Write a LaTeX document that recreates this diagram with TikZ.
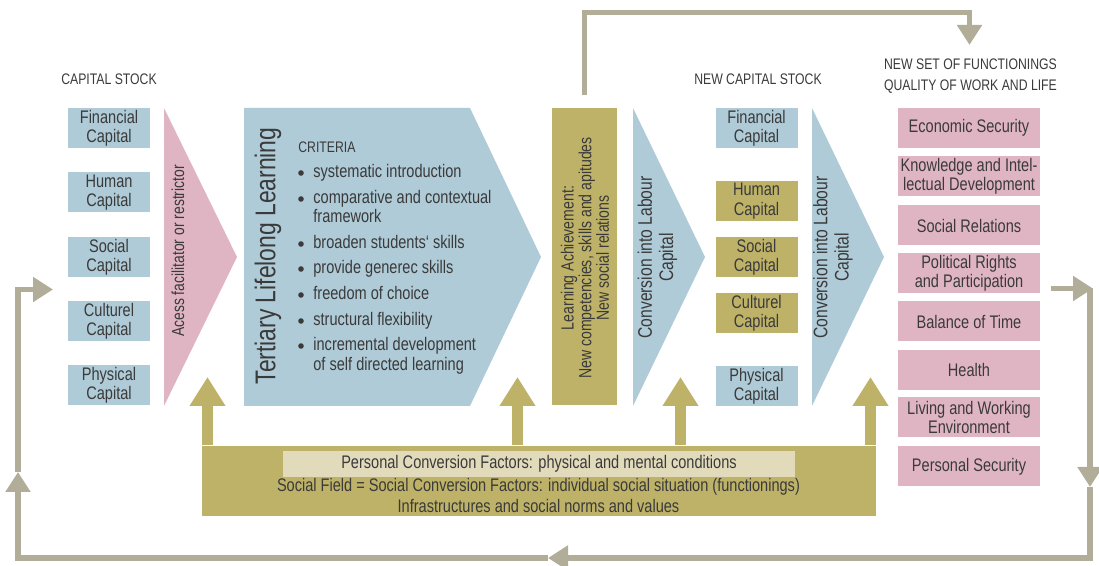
\documentclass[tikz,border=0pt]{standalone}
\usepackage{fontspec}
\setmainfont[FakeStretch=0.8]{Liberation Sans}
\usetikzlibrary{arrows.meta}

\definecolor{capblue}{RGB}{175,203,215}
\definecolor{fpink}{RGB}{224,181,195}
\definecolor{olivec}{RGB}{190,178,104}
\definecolor{beigec}{RGB}{225,219,187}
\definecolor{loopgray}{RGB}{177,173,152}
\definecolor{txtc}{RGB}{58,58,58}

\newcommand{\bodyfont}{\fontsize{9.1}{9.7}\selectfont}
\newcommand{\titlefont}{\fontsize{7.65}{10.5}\selectfont}

\tikzset{
    title/.style={font=\titlefont, text=txtc, align=center, inner sep=0pt},
    capbox/.style={fill=capblue, minimum width=41pt, minimum height=20pt, inner sep=0pt,
        align=center, font=\bodyfont, text=txtc},
    funcbox/.style={fill=fpink, minimum width=71pt, minimum height=20pt, inner sep=0pt,
        align=center, font=\bodyfont, text=txtc},
    vtext/.style={rotate=90, align=center, inner sep=0pt, text=txtc},
    crit/.style={anchor=west, inner sep=0pt, font=\bodyfont, text=txtc,
        text height=6.6pt, text depth=1.9pt},
    ftext/.style={inner sep=0pt, font=\bodyfont, text=txtc},
    uparr/.style={draw=olivec, line width=5.5pt, -{Triangle[length=14.5pt,width=17pt]}},
    fb/.style={draw=loopgray, line width=2.7pt, -{Triangle[length=10pt,width=12pt]}}
}

\begin{document}
\begin{tikzpicture}[x=0.5pt,y=-0.5pt]
    \useasboundingbox (0,0) rectangle (1099,566);

    \node[title] (cstock) at (109,79) {CAPITAL STOCK};
    \node[title] (ncstock) at (758,79) {NEW CAPITAL STOCK};
    \node[title] (func) at (970.5,76) {NEW SET OF FUNCTIONINGS\\QUALITY OF WORK AND LIFE};

    \foreach \i/\y/\val in {1/128/Financial, 2/192.5/Human, 3/257/Social, 4/321/Culturel, 5/385.5/Physical} {
        \node[capbox] (cs\i) at (109,\y) {\val\\Capital};
    }

    \fill[fpink] (164,108) -- (237,257) -- (164,406) -- cycle;
    \node[vtext, font=\fontsize{8.7}{9.6}\selectfont] (acc) at (178,251) {Acess facilitator or restrictor};

    \fill[capblue] (244,108) -- (470,108) -- (541,257) -- (470,406) -- (244,406) -- cycle;
    \node[vtext, font=\fontsize{14.3}{16}\selectfont] (tll) at (268,256) {Tertiary Lifelong Learning};
    \node[crit, font=\titlefont] (crit) at (298,148) {CRITERIA};
    \foreach \y/\val in {173/systematic introduction, 199/comparative and contextual, 244/broaden students‘ skills,
        269/provide generec skills, 295/freedom of choice, 321/structural flexibility, 346/incremental development} {
        \fill[txtc] (301,\y) circle (1.4pt);
        \node[crit] (c\y) at (313,\y) {\val};
    }
    \node[crit] (c218) at (313,218) {framework};
    \node[crit] (c366) at (313,366) {of self directed learning};

    \node[fill=olivec, minimum width=32.5pt, minimum height=148.5pt, inner sep=0pt] (ach) at (584.5,256.5) {};
    \node[vtext, font=\fontsize{8.8}{8.8}\selectfont] (achtxt) at (585,258)
        {Learning Achievement:\\New competencies, skills and apitudes\\New social relations};

    \fill[capblue] (633,108) -- (705,257) -- (633,406) -- cycle;
    \node[vtext, font=\fontsize{9.8}{10.6}\selectfont] (conv1) at (657.5,257.5) {Conversion into Labour\\Capital};

    \foreach \i/\y/\col/\val in {1/128/capblue/Financial, 2/201/olivec/Human, 3/257/olivec/Social,
        4/313/olivec/Culturel, 5/386/capblue/Physical} {
        \node[capbox, fill=\col] (ncs\i) at (756.5,\y) {\val\\Capital};
    }

    \fill[capblue] (812,108) -- (884,257) -- (812,406) -- cycle;
    \node[vtext, font=\fontsize{9.8}{10.6}\selectfont] (conv2) at (833,257.5) {Conversion into Labour\\Capital};

    \foreach \i/\y/\val in {1/128/Economic Security, 2/176.5/{Knowledge and Intel-\\lectual Development},
        3/225.5/Social Relations, 4/273.5/{Political Rights\\and Participation}, 5/321.5/Balance of Time,
        6/370/Health, 7/417.5/{Living and Working\\Environment}, 8/466.5/Personal Security} {
        \node[funcbox] (f\i) at (969,\y) {\val};
    }

    \node[fill=olivec, minimum width=337pt, minimum height=35pt, inner sep=0pt, anchor=north west] (fact) at (202,446) {};
    \node[fill=beigec, minimum width=256pt, minimum height=13pt, inner sep=0pt, font=\bodyfont, text=txtc]
        (pcf) at (539,464) {Personal Conversion Factors: physical and mental conditions};
    \node[ftext] (sf) at (538.5,487) {Social Field = Social Conversion Factors: individual social situation (functionings)};
    \node[ftext] (infra) at (538.5,506) {Infrastructures and social norms and values};

    \foreach \i/\x in {1/207.5, 2/517.5, 3/680.5, 4/870.5} {
        \coordinate (tip\i) at (\x,377);
        \draw[uparr] ([yshift=0.5pt]tip\i |- fact.north) -- (tip\i);
    }

    \coordinate (top1) at (584.5,12.5);
    \coordinate (top2) at (969.5,12.5);
    \coordinate (topend) at (969.5,45);
    \draw[fb] ([yshift=6.5pt]ach.north) -- (top1) -- (top2) -- (topend);

    \coordinate (r1) at (1093,288.5);
    \coordinate (rc) at (1090,288.5);
    \coordinate (rd) at (1090,487);
    \coordinate (bc) at (1090,558);
    \coordinate (bm) at (548,558);
    \coordinate (lc) at (18,558);
    \coordinate (lu) at (18,472);
    \coordinate (le) at (53,289.5);
    \draw[fb] ([xshift=5.5pt,yshift=-7.5pt]f4.east) -- (r1);
    \draw[fb] (rc) -- (rd);
    \draw[fb] (rd) -- (bc) -- (bm);
    \draw[fb] (bm) -- (lc) -- (lu);
    \draw[fb] (lu) -- (lu |- le) -- (le);
\end{tikzpicture}
\end{document}
